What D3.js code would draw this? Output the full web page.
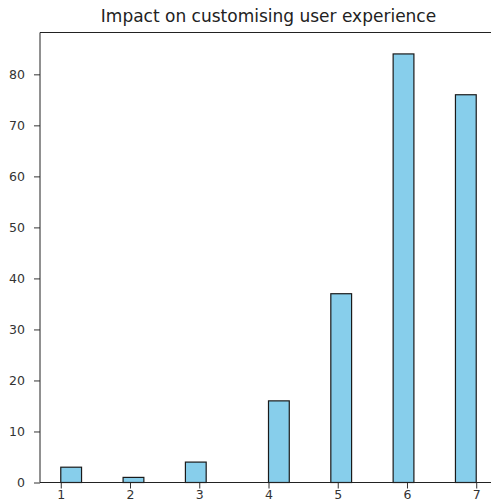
<!DOCTYPE html>
<html>
<head>
<meta charset="utf-8">
<script src="https://cdn.jsdelivr.net/npm/d3@7"></script>
<style>
  html, body { margin: 0; padding: 0; background: #fff; overflow: hidden; }
  svg { display: block; }
  text { font-family: "DejaVu Sans", sans-serif; }
</style>
</head>
<body>
<div id="chart"></div>
<script>
// Survey ratings (1–7 scale) and how many respondents gave each
const ratings = [1, 2, 3, 4, 5, 6, 7];
const counts = [3, 1, 4, 16, 37, 84, 76];
const xTicks = [1, 2, 3, 4, 5, 6, 7];
const yTicks = [0, 10, 20, 30, 40, 50, 60, 70, 80];
const binCount = 20;
const chartTitle = "Impact on customising user experience";

const W = 491, H = 501;
const svg = d3.select("#chart").append("svg")
  .attr("width", W).attr("height", H);

// histogram binning over the rating range, last bin closed on the right
const lo = d3.min(ratings), hi = d3.max(ratings);
const binW = (hi - lo) / binCount;
const bars = ratings.map((r, i) => {
  const idx = Math.min(binCount - 1, Math.floor((r - lo) / binW));
  return { x0: lo + idx * binW, x1: lo + (idx + 1) * binW, n: counts[i] };
});

const xPad = (hi - lo) * 0.05;
const yMax = d3.max(counts) * 1.05;

const plot = { left: 40, right: 497, top: 32.5, bottom: 482.5 };
const x = d3.scaleLinear().domain([lo - xPad, hi + xPad]).range([plot.left, plot.right]);
const y = d3.scaleLinear().domain([0, yMax]).range([plot.bottom, plot.top]);

// bars
svg.append("g").selectAll("rect").data(bars).join("rect")
  .attr("x", d => x(d.x0))
  .attr("width", d => x(d.x1) - x(d.x0))
  .attr("y", d => y(d.n))
  .attr("height", d => y(0) - y(d.n))
  .attr("fill", "#87ceeb")
  .attr("stroke", "#1a1a1a")
  .attr("stroke-width", 1.2);

// axes
const yAxis = d3.axisLeft(y).tickValues(yTicks).tickFormat(d3.format("d"))
  .tickSize(6).tickPadding(9);
const gy = svg.append("g").attr("transform", `translate(${plot.left},0)`).call(yAxis);
const xAxis = d3.axisBottom(x).tickValues(xTicks).tickFormat(d3.format("d"))
  .tickSize(6).tickPadding(1.5);
const gx = svg.append("g").attr("transform", `translate(0,${plot.bottom})`).call(xAxis);

[gx, gy].forEach(g => {
  g.select(".domain").remove();
  g.selectAll(".tick line").attr("stroke", "#333");
  g.selectAll(".tick text").attr("fill", "#333").style("font-size", "12.5px")
    .style("font-family", "'DejaVu Sans', sans-serif");
});

// spines
const lines = [
  [plot.left, plot.top, plot.left, plot.bottom],
  [plot.left, plot.top, plot.right, plot.top],
  [plot.left, plot.bottom, plot.right, plot.bottom],
  [plot.right, plot.top, plot.right, plot.bottom]
];
svg.append("g").selectAll("line").data(lines).join("line")
  .attr("x1", d => d[0]).attr("y1", d => d[1])
  .attr("x2", d => d[2]).attr("y2", d => d[3])
  .attr("stroke", "#222").attr("stroke-width", 1);

// title
svg.append("text")
  .attr("x", (plot.left + plot.right) / 2)
  .attr("y", 22)
  .attr("text-anchor", "middle")
  .attr("fill", "#222")
  .style("font-size", "17px")
  .text(chartTitle);
</script>
</body>
</html>
